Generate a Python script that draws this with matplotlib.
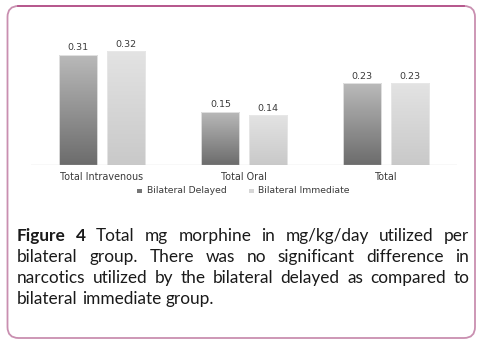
import matplotlib
matplotlib.use("Agg")
import matplotlib.pyplot as plt
import numpy as np
from matplotlib.patches import FancyBboxPatch, Rectangle
from matplotlib.colors import LinearSegmentedColormap
from matplotlib.transforms import IdentityTransform, ScaledTranslation

categories = ["Total Intravenous", "Total Oral", "Total"]
series_names = ["Bilateral Delayed", "Bilateral Immediate"]
delayed = [0.31, 0.15, 0.23]
immediate = [0.32, 0.14, 0.23]
caption_bold = "Figure 4"
caption_lines = [
    "Total mg morphine in mg/kg/day utilized per",
    "bilateral group. There was no significant difference in",
    "narcotics utilized by the bilateral delayed as compared to",
    "bilateral immediate group.",
]

W, H = 484, 346
fig = plt.figure(figsize=(W / 100, H / 100), dpi=100)
fig.patch.set_facecolor("white")

def fx(x):
    return x / W

def fy(y):
    return 1 - y / H

# rounded frame
frame = FancyBboxPatch((7.5, H - 338), 467.5, 332, boxstyle="round,pad=0,rounding_size=11",
                       transform=IdentityTransform(), facecolor="none",
                       edgecolor="#c98fb0", linewidth=1.3)
fig.patches.append(frame)
fig.add_artist(plt.Line2D([18, 464], [H - 6, H - 6], transform=IdentityTransform(),
                          color="#b5538a", linewidth=1.3))

# axes
ax_left, ax_right = 31, 457
base_y, top_y = 165, 20
ax = fig.add_axes([fx(ax_left), fy(base_y), (ax_right - ax_left) / W, (base_y - top_y) / H])
ax.axis("off")
ax.axhline(0, color="#c8c8c8", linewidth=0.9, zorder=5)

cmap_dark = LinearSegmentedColormap.from_list("d", ["#6c6c6c", "#bababa"])
cmap_light = LinearSegmentedColormap.from_list("l", ["#c9c9c9", "#e3e3e3"])

bw = 0.268
off = 0.166
x = np.arange(len(categories))
grad = np.linspace(0, 1, 256).reshape(-1, 1)
lbl_shift = ScaledTranslation(0, 2.5 / 100, fig.dpi_scale_trans)
for vals, sgn, cmap in [(delayed, -1, cmap_dark), (immediate, 1, cmap_light)]:
    bars = ax.bar(x + sgn * off, vals, width=bw, color="none", edgecolor="#e8e8e8", linewidth=0.6, zorder=3)
    for b, v in zip(bars, vals):
        x0 = b.get_x()
        im = ax.imshow(grad, cmap=cmap, origin="lower", aspect="auto",
                       extent=[x0, x0 + bw, 0, v], zorder=2, interpolation="bilinear")
        im.set_clip_path(b)
        ax.text(b.get_x() + bw / 2, v, f"{v:.2f}", ha="center", va="bottom",
                fontsize=6.8, color="#3a3a3a", family="DejaVu Sans",
                transform=ax.transData + lbl_shift)
ax.set_xlim(-0.5, 2.5)
ax.set_ylim(0, (base_y - top_y) / 355.0)

# category labels
for i, c in enumerate(categories):
    xc = ax_left + (i + 0.5) * (ax_right - ax_left) / 3
    fig.text(fx(xc), fy(176.5), c, ha="center", va="center", fontsize=6.9, color="#3a3a3a",
             family="DejaVu Sans")

# legend
leg_items = [(137, 147, "#767676", series_names[0]), (249, 258, "#d6d6d6", series_names[1])]
for mx, tx, col, name in leg_items:
    fig.patches.append(Rectangle((mx, H - 192.5), 5, 4, transform=IdentityTransform(),
                                 facecolor=col, edgecolor="none"))
    fig.text(fx(tx), fy(190.5), name, ha="left", va="center", fontsize=6.7, color="#3a3a3a",
             family="DejaVu Sans")

# justified caption
fig.canvas.draw()
renderer = fig.canvas.get_renderer()
left, right = 17, 469
line_base = [241, 262, 283, 304]
cap_font = dict(fontsize=12.4, family="Lato", color="#1a1a1a")

def width_of(word, bold=False):
    t = fig.text(0, 0, word, fontweight="bold" if bold else "normal", **cap_font)
    w = t.get_window_extent(renderer=renderer).width
    t.remove()
    return w

space_w = width_of("a b") - width_of("ab")
for li, line in enumerate(caption_lines):
    words = [(w, False) for w in line.split(" ")]
    if li == 0:
        words = [(w, True) for w in caption_bold.split(" ")] + words
    widths = [width_of(w, b) for w, b in words]
    if li < len(caption_lines) - 1:
        gap = (right - left - sum(widths)) / (len(words) - 1)
    else:
        gap = space_w
    xp = left
    for (w, b), wd in zip(words, widths):
        fig.text(fx(xp), fy(line_base[li]), w, ha="left", va="baseline",
                 fontweight="bold" if b else "normal", **cap_font)
        xp += wd + gap

fig.savefig("out.png", dpi=100, facecolor="white")
